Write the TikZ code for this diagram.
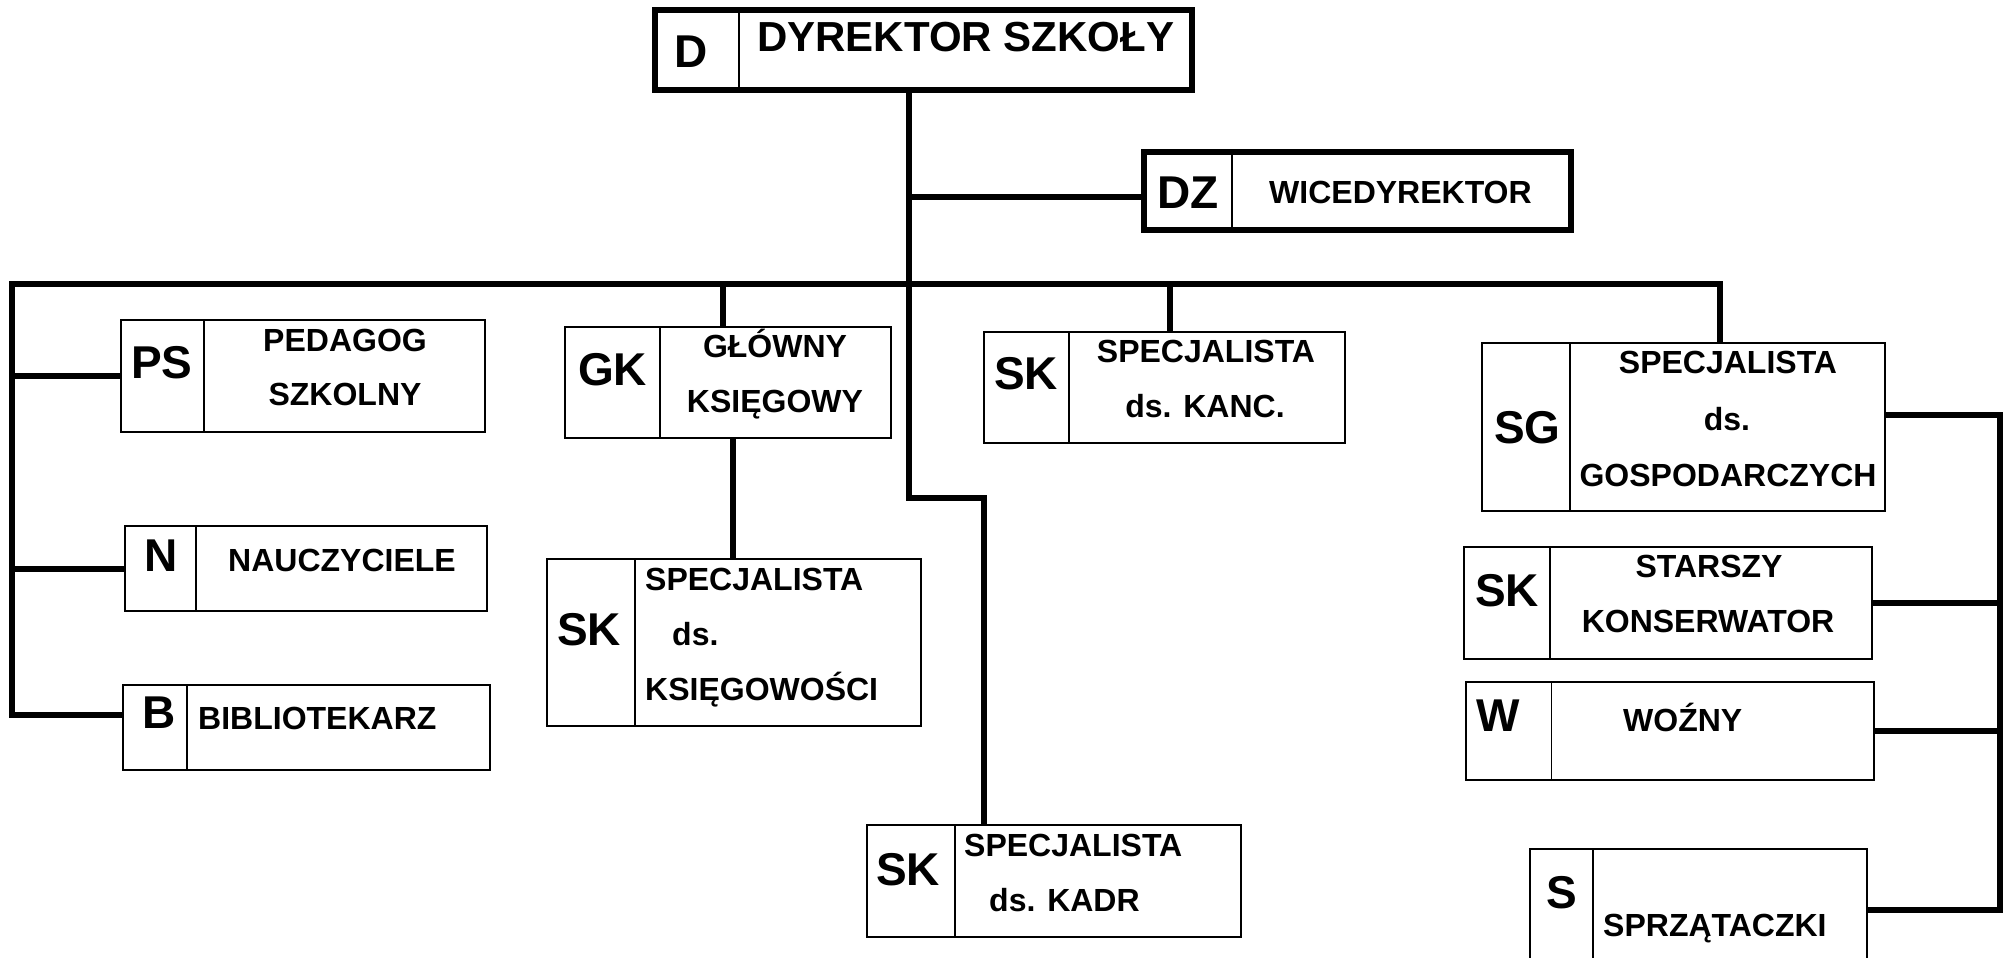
\documentclass[tikz,border=0pt]{standalone}
\usepackage{fontspec}
\setmainfont{Liberation Sans}
\usepackage{tikz}

\begin{document}
\begin{tikzpicture}[x = 1pt, y = -1pt,
   box/.style = {shape = rectangle, draw, line width = 2.6pt, anchor = north west, inner sep = 0pt, outer sep = 0pt},
   bigbox/.style = {box, line width = 6pt},
   conn/.style = {line width = 6pt},
   sep/.style = {line width = 2pt},
   txt/.style = {font = \fontsize{32}{32}\selectfont\bfseries, inner sep = 0pt, anchor = base},
   txtl/.style = {txt, anchor = base west},
   abbr/.style = {font = \fontsize{46}{46}\selectfont\bfseries, inner sep = 0pt, anchor = base west}]
   \useasboundingbox (0,0) rectangle (2006,958);
   \clip (0,0) rectangle (2006,958);

   % boxes
   \node(dyr) at (655,10) [bigbox, minimum width = 537pt, minimum height = 80pt] {};
   \node(wic) at (1144,152) [bigbox, minimum width = 427pt, minimum height = 78pt] {};
   \node(ps) at (121,320) [box, minimum width = 364pt, minimum height = 112pt] {};
   \node(nau) at (125,526) [box, minimum width = 362pt, minimum height = 85pt] {};
   \node(bib) at (123,685) [box, minimum width = 367pt, minimum height = 85pt] {};
   \node(gk) at (565,327) [box, minimum width = 326pt, minimum height = 111pt] {};
   \node(ksg) at (547,559) [box, minimum width = 374pt, minimum height = 167pt] {};
   \node(kadr) at (867,825) [box, minimum width = 374pt, minimum height = 112pt] {};
   \node(kanc) at (984,332) [box, minimum width = 361pt, minimum height = 111pt] {};
   \node(sg) at (1482,343) [box, minimum width = 403pt, minimum height = 168pt] {};
   \node(kons) at (1464,547) [box, minimum width = 408pt, minimum height = 112pt] {};
   \node(woz) at (1466,682) [box, minimum width = 408pt, minimum height = 98pt] {};
   \node(spr) at (1530,849) [box, minimum width = 337pt, minimum height = 126pt] {};

   % dividers
   \draw [sep] ([xshift = 84pt]dyr.north west) -- ([xshift = 84pt]dyr.south west);
   \draw [sep] ([xshift = 88pt]wic.north west) -- ([xshift = 88pt]wic.south west);
   \draw [sep] ([xshift = 83pt]ps.north west) -- ([xshift = 83pt]ps.south west);
   \draw [sep] ([xshift = 71pt]nau.north west) -- ([xshift = 71pt]nau.south west);
   \draw [sep] ([xshift = 64pt]bib.north west) -- ([xshift = 64pt]bib.south west);
   \draw [sep] ([xshift = 95pt]gk.north west) -- ([xshift = 95pt]gk.south west);
   \draw [sep] ([xshift = 88pt]ksg.north west) -- ([xshift = 88pt]ksg.south west);
   \draw [sep] ([xshift = 88pt]kadr.north west) -- ([xshift = 88pt]kadr.south west);
   \draw [sep] ([xshift = 85pt]kanc.north west) -- ([xshift = 85pt]kanc.south west);
   \draw [sep] ([xshift = 88pt]sg.north west) -- ([xshift = 88pt]sg.south west);
   \draw [sep] ([xshift = 86pt]kons.north west) -- ([xshift = 86pt]kons.south west);
   \draw [line width = 1pt] ([xshift = 85pt]woz.north west) -- ([xshift = 85pt]woz.south west);
   \draw [sep] ([xshift = 63pt]spr.north west) -- ([xshift = 63pt]spr.south west);

   % texts
   \node(dyrA) at (674,68) [abbr] {D};
   \node(dyrT) at (757,52) [txtl, font = \fontsize{42}{42}\selectfont\bfseries] {DYREKTOR SZKOŁY};
   \node(wicA) at (1157,208) [abbr] {DZ};
   \node(wicT) at (1269,203) [txtl] {WICEDYREKTOR};
   \node(psA) at (131,378) [abbr] {PS};
   \node(psT1) at (345,351) [txt] {PEDAGOG};
   \node(psT2) at (345,405) [txt] {SZKOLNY};
   \node(nauA) at (144,571) [abbr] {N};
   \node(nauT) at (228,571) [txtl] {NAUCZYCIELE};
   \node(bibA) at (142,728) [abbr] {B};
   \node(bibT) at (198,729) [txtl] {BIBLIOTEKARZ};
   \node(gkA) at (578,385) [abbr] {GK};
   \node(gkT1) at (775,357) [txt] {GŁÓWNY};
   \node(gkT2) at (775,412) [txt] {KSIĘGOWY};
   \node(ksgA) at (557,645) [abbr] {SK};
   \node(ksgT1) at (645,590) [txtl] {SPECJALISTA};
   \node(ksgT2) at (672,645) [txtl] {ds.};
   \node(ksgT3) at (645,700) [txtl] {KSIĘGOWOŚCI};
   \node(kadrA) at (876,885) [abbr] {SK};
   \node(kadrT1) at (964,856) [txtl] {SPECJALISTA};
   \node(kadrT2) at (989,911) [txtl] {ds. KADR};
   \node(kancA) at (994,389) [abbr] {SK};
   \node(kancT1) at (1206,362) [txt] {SPECJALISTA};
   \node(kancT2) at (1205,417) [txt] {ds. KANC.};
   \node(sgA) at (1494,443) [abbr] {SG};
   \node(sgT1) at (1728,373) [txt] {SPECJALISTA};
   \node(sgT2) at (1727,430) [txt] {ds.};
   \node(sgT3) at (1728,486) [txt] {GOSPODARCZYCH};
   \node(konsA) at (1475,606) [abbr] {SK};
   \node(konsT1) at (1709,577) [txt] {STARSZY};
   \node(konsT2) at (1708,632) [txt] {KONSERWATOR};
   \node(wozA) at (1476,731) [abbr] {W};
   \node(wozT) at (1623,731) [txtl] {WOŹNY};
   \node(sprA) at (1546,908) [abbr] {S};
   \node(sprT) at (1603,936) [txtl] {SPRZĄTACZKI};

   % connectors
   \coordinate(busL) at (12,284);
   \coordinate(busR) at (1720,284);
   \coordinate(dzj) at (912,197);
   \coordinate(bend) at (909,498);
   \coordinate(kadrj) at (984,0);
   \coordinate(gkj) at (723,284);
   \coordinate(gkb) at (733,0);
   \coordinate(kancj) at (1170,284);
   \coordinate(lbot) at (12,715);
   \coordinate(rtop) at (2000,415);
   \coordinate(rbot) at (2000,910);
   \draw [conn] (bend |- dyr.south) -- (bend) -| (kadrj |- kadr.north);
   \draw [conn] (dzj) -- (dzj -| wic.west);
   \draw [conn] (lbot -| bib.west) -- (lbot) -- (busL) -- (busR) -- (busR |- sg.north);
   \draw [conn] (busL |- ps.west) -- (ps.west);
   \draw [conn] (busL |- nau.west) -- (nau.west);
   \draw [conn] (gkj) -- (gkj |- gk.north);
   \draw [conn] (gkb |- gk.south) -- (gkb |- ksg.north);
   \draw [conn] (kancj) -- (kancj |- kanc.north);
   \draw [conn] (sg.east |- rtop) -- (rtop) -- (rbot) -- (rbot -| spr.east);
   \draw [conn] (kons.east) -- (kons.east -| rtop);
   \draw [conn] (woz.east) -- (woz.east -| rtop);
\end{tikzpicture}
\end{document}
